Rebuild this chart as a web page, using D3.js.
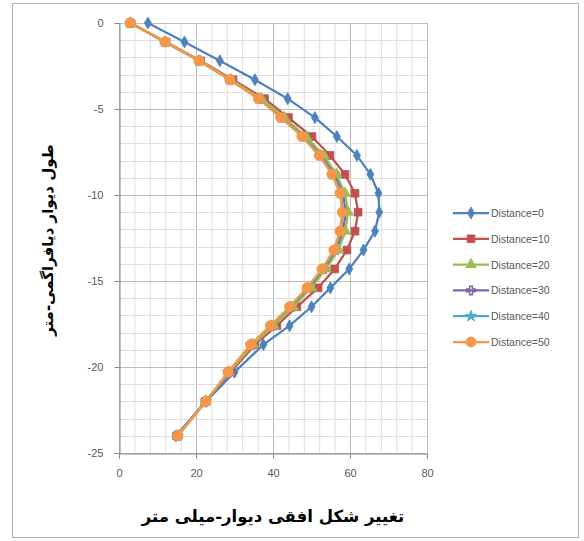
<!DOCTYPE html>
<html>
<head>
<meta charset="utf-8">
<script src="https://cdnjs.cloudflare.com/ajax/libs/d3/7.8.5/d3.min.js"></script>
<style>
  body { margin: 0; background: #fff; }
  svg { display: block; }
</style>
</head>
<body>
<div id="chart"></div>
<script>
// depth of each reading (m)
var depths = [0, -1.1, -2.2, -3.3, -4.4, -5.5, -6.6, -7.7, -8.8, -9.9, -11, -12.1, -13.2, -14.3, -15.4, -16.5, -17.6, -18.7, -20.3, -22, -24];

// horizontal deformation (mm) for each distance
var dist0  = [7.5, 17, 26.2, 35.3, 43.8, 50.9, 56.6, 61.8, 65.3, 67.4, 67.6, 66.5, 63.5, 59.8, 54.9, 50, 44.3, 37.5, 30, 22.6, 14.8];
var dist10 = [3, 12.2, 21.2, 29.6, 37.8, 44, 50.1, 54.8, 58.7, 61.3, 62.1, 61.3, 59.2, 56, 51.7, 46.2, 41, 35.3, 29, 22.4, 15];
var dist20 = [3, 12, 21, 29.1, 37, 43, 48.6, 53.2, 56.5, 58.7, 59.5, 58.8, 57, 53.8, 50, 45.3, 40.2, 34.8, 28.6, 22.5, 15.2];
var dist30 = [3, 11.9, 20.9, 29, 36.8, 42.7, 48.2, 52.8, 56.1, 58.2, 58.9, 58.2, 56.5, 53.4, 49.5, 45, 40, 34.6, 28.6, 22.5, 15.2];
var dist40 = [2.9, 12, 20.8, 28.8, 36.4, 42.2, 47.7, 52.2, 55.5, 57.6, 58.2, 57.6, 56, 52.9, 49, 44.5, 39.5, 34.3, 28.4, 22.6, 15.3];
var dist50 = [2.9, 12, 20.8, 28.8, 36.2, 42, 47.5, 52, 55.3, 57.4, 58, 57.4, 55.8, 52.7, 48.8, 44.3, 39.3, 34.2, 28.3, 22.6, 15.3];

var seriesNames = ["Distance=0", "Distance=10", "Distance=20", "Distance=30", "Distance=40", "Distance=50"];
var seriesValues = [dist0, dist10, dist20, dist30, dist40, dist50];
var xTicks = [0, 20, 40, 60, 80];
var yTicks = [0, -5, -10, -15, -20, -25];

var colors  = ["#4F81BD", "#C0504D", "#9BBB59", "#8064A2", "#4BACC6", "#F79646"];
var symbols = [d3.symbolDiamond, d3.symbolSquare, d3.symbolTriangle, d3.symbolCross, d3.symbolStar, d3.symbolCircle];
var symSize = [42, 60, 50, 40, 40, 80];

var W = 584, H = 541;
var plot = {left: 119, top: 23, right: 427, bottom: 453};

var svg = d3.select("#chart").append("svg")
    .attr("width", W)
    .attr("height", H);

// outer chart frame
svg.append("rect")
    .attr("x", 12.5).attr("y", 3.5)
    .attr("width", 566).attr("height", 534)
    .attr("fill", "#fff")
    .attr("stroke", "#b0b0b0");

var x = d3.scaleLinear().domain([0, 80]).range([plot.left, plot.right]);
var y = d3.scaleLinear().domain([-25, 0]).range([plot.bottom, plot.top]);

// grid: minor every 4 / 1, major every 20 / 5
var g = svg.append("g");
g.selectAll(".vminor")
    .data(d3.range(0, 80.1, 4))
    .enter().append("line")
    .attr("x1", d => x(d) + 0.5).attr("x2", d => x(d) + 0.5)
    .attr("y1", plot.top).attr("y2", plot.bottom)
    .attr("stroke", d => d % 20 === 0 ? "#bcbcbc" : "#dedede");
g.selectAll(".hminor")
    .data(d3.range(-25, 0.1, 1))
    .enter().append("line")
    .attr("y1", d => Math.round(y(d)) + 0.5).attr("y2", d => Math.round(y(d)) + 0.5)
    .attr("x1", plot.left).attr("x2", plot.right)
    .attr("stroke", d => d % 5 === 0 ? "#bcbcbc" : "#dedede");

// axes
var xAxis = svg.append("g")
    .attr("transform", "translate(0," + (plot.bottom + 0.5) + ")")
    .call(d3.axisBottom(x).tickValues(xTicks).tickSize(5).tickPadding(11));
var yAxis = svg.append("g")
    .attr("transform", "translate(" + (plot.left + 0.5) + ",0)")
    .call(d3.axisLeft(y).tickValues(yTicks).tickSize(5).tickPadding(11)
        .tickFormat(d => d === 0 ? "0" : "-" + Math.abs(d)));
[xAxis, yAxis].forEach(function(a) {
    a.selectAll("path, line").attr("stroke", "#868686");
    a.selectAll("text")
        .attr("fill", "#595959")
        .style("font-family", "'Liberation Sans', Arial, sans-serif")
        .style("font-size", "11px");
});

// lines and markers
var line = d3.line()
    .x(d => x(d[0]))
    .y(d => y(d[1]));

var order = [0, 1, 3, 4, 2, 5];
order.forEach(function(i) {
    var pts = seriesValues[i].map((v, k) => [v, depths[k]]);
    svg.append("path")
        .datum(pts)
        .attr("fill", "none")
        .attr("stroke", colors[i])
        .attr("stroke-width", 2.25)
        .attr("d", line);
    svg.selectAll(".m" + i)
        .data(pts)
        .enter().append("path")
        .attr("transform", d => "translate(" + x(d[0]) + "," + y(d[1]) + ")")
        .attr("d", d3.symbol().type(symbols[i]).size(symSize[i]))
        .attr("fill", i === 3 ? "none" : colors[i])
        .attr("stroke", colors[i])
        .attr("stroke-width", i === 3 ? 1.5 : 0.8);
});

// legend
var legend = svg.append("g").attr("transform", "translate(453,213)");
seriesNames.forEach(function(name, i) {
    var row = legend.append("g").attr("transform", "translate(0," + (i * 25.8) + ")");
    row.append("line")
        .attr("x1", 0).attr("x2", 36)
        .attr("stroke", colors[i]).attr("stroke-width", 2.25);
    row.append("path")
        .attr("transform", "translate(18,0)")
        .attr("d", d3.symbol().type(symbols[i]).size(symSize[i]))
        .attr("fill", i === 3 ? "none" : colors[i])
        .attr("stroke", colors[i])
        .attr("stroke-width", i === 3 ? 1.5 : 0.8);
    row.append("text")
        .attr("x", 38).attr("y", 4)
        .attr("fill", "#595959")
        .style("font-family", "'Liberation Sans', Arial, sans-serif")
        .style("font-size", "10.5px")
        .text(name);
});

// axis titles
svg.append("text")
    .attr("x", 273).attr("y", 522)
    .attr("text-anchor", "middle")
    .attr("direction", "rtl")
    .style("font-family", "'DejaVu Sans', sans-serif")
    .style("font-weight", "bold")
    .style("font-size", "16.5px")
    .text("تغییر شکل افقی دیوار-میلی متر");

svg.append("text")
    .attr("transform", "translate(53,240) rotate(-90)")
    .attr("text-anchor", "middle")
    .attr("direction", "rtl")
    .style("font-family", "'DejaVu Sans', sans-serif")
    .style("font-weight", "bold")
    .style("font-size", "15px")
    .text("طول دیوار دیافراگمی-متر");
</script>
</body>
</html>
